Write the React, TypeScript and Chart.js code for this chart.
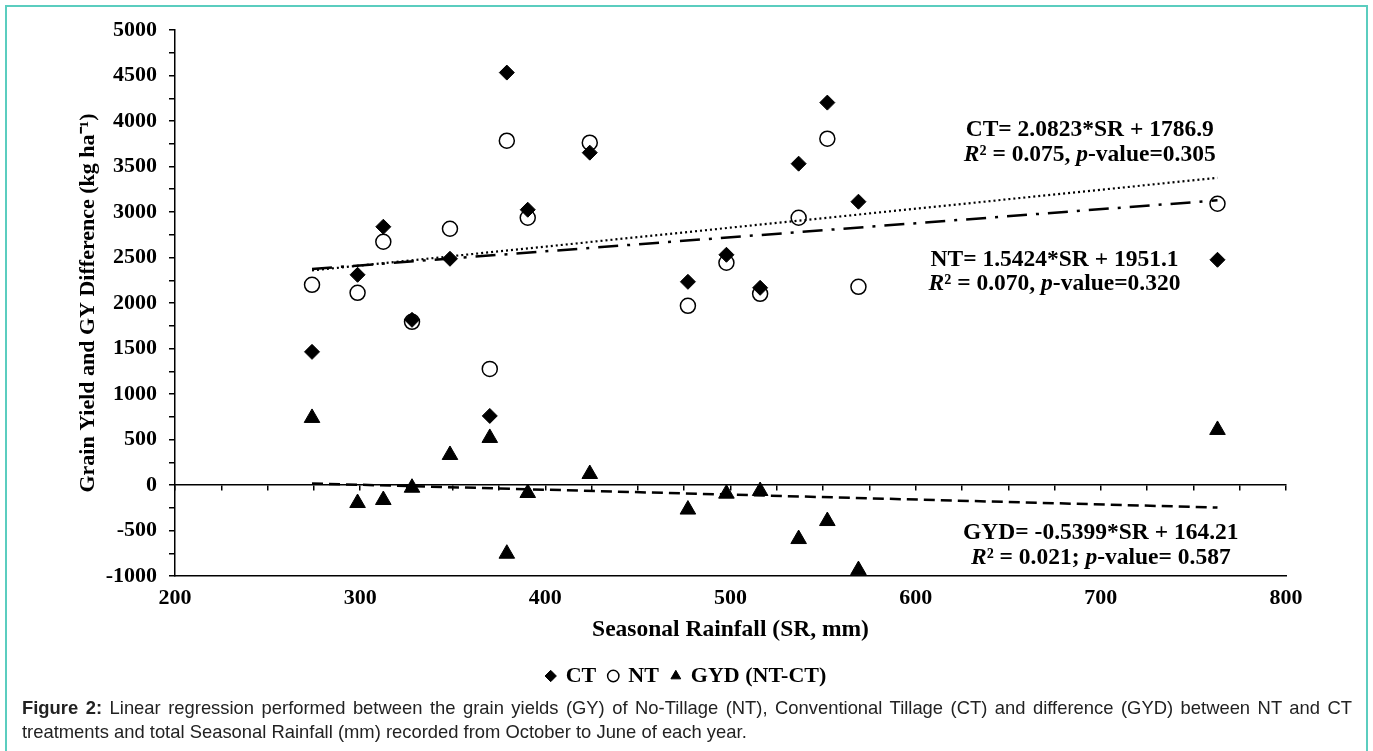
import React, { useEffect, useRef } from 'react';
import { Chart, registerables } from 'chart.js';

Chart.register(...registerables);

const SERIF = '"Liberation Serif", "Times New Roman", Times, serif';
const SANS = '"Liberation Sans", Arial, Helvetica, sans-serif';

// Seasonal rainfall (SR, mm) for each year
const rainfall = [274, 298.6, 312.5, 328, 348.5, 370, 379.2, 390.5, 424, 477, 497.8, 516, 536.8, 552.3, 569.1, 763];
// Conventional Tillage grain yield (kg/ha)
const ctYield = [1463, 2310, 2838, 1815, 2486, 759, 4532, 3025, 3652, 2233, 2530, 2167, 3531, 4202, 3113, 2475];
// No-Tillage grain yield (kg/ha)
const ntYield = [2200, 2112, 2673, 1793, 2816, 1276, 3784, 2937, 3762, 1969, 2442, 2101, 2937, 3806, 2178, 3091];
// Grain yield difference NT - CT (kg/ha)
const gydDiff = [737, -198, -165, -30, 330, 517, -755, -88, 121, -270, -95, -66, -594, -396, -935, 605];

const seriesNames = ['CT', 'NT', 'GYD (NT-CT)'];

// Regression coefficients printed on the figure [slope, intercept]
const ctFit = [2.0823, 1786.9];
const ntFit = [1.5424, 1951.1];
const gydFit = [-0.5399, 164.21];

// Equation texts (segments: [text, italic])
const ctEquation = [
  [['CT= 2.0823*SR + 1786.9', false]],
  [['R', true], ['² = 0.075, ', false], ['p', true], ['-value=0.305', false]],
];
const ntEquation = [
  [['NT= 1.5424*SR + 1951.1', false]],
  [['R', true], ['² = 0.070, ', false], ['p', true], ['-value=0.320', false]],
];
const gydEquation = [
  [['GYD= -0.5399*SR + 164.21', false]],
  [['R', true], ['² = 0.021; ', false], ['p', true], ['-value= 0.587', false]],
];

const xTitle = 'Seasonal Rainfall (SR, mm)';
const yTitle = 'Grain Yield and GY Difference (kg ha⁻¹)';

const fitLine = (coef: number[]) => {
  const lo = Math.min(...rainfall);
  const hi = Math.max(...rainfall);
  return [lo, hi].map((x) => ({ x, y: coef[0] * x + coef[1] }));
};

const pts = (ys: number[]) => rainfall.map((x, i) => ({ x, y: ys[i] }));

const equationPlugin = {
  id: 'equationText',
  afterDatasetsDraw(chart: any, _args: any, opts: any) {
    const { ctx, scales } = chart;
    const xs = scales.x;
    const ys = scales.y;
    ctx.save();
    ctx.fillStyle = '#000';
    ctx.textBaseline = 'middle';
    ctx.textAlign = 'left';
    for (const item of opts.items) {
      item.eq.forEach((line: any[], li: number) => {
        const fonts = line.map((s: any) => `${s[1] ? 'italic ' : ''}bold ${opts.size}px ${SERIF}`);
        let total = 0;
        const widths = line.map((s: any, k: number) => {
          ctx.font = fonts[k];
          const w = ctx.measureText(s[0]).width;
          total += w;
          return w;
        });
        let px = xs.getPixelForValue(item.x) - total / 2;
        const py = ys.getPixelForValue(item.y[li]);
        line.forEach((s: any, k: number) => {
          ctx.font = fonts[k];
          ctx.fillText(s[0], px, py);
          px += widths[k];
        });
      });
    }
    ctx.restore();
  },
};

export default function App() {
  const ref = useRef<HTMLCanvasElement>(null);

  useEffect(() => {
    const tickFont = { family: SERIF, size: 22, weight: 'bold' as const };
    const chart = new Chart(ref.current as HTMLCanvasElement, {
      type: 'scatter',
      data: {
        datasets: [
          {
            label: seriesNames[0],
            data: pts(ctYield),
            pointStyle: 'rectRot',
            pointRadius: 7.5,
            backgroundColor: '#000',
            borderColor: '#000',
            borderWidth: 1,
          },
          {
            label: seriesNames[1],
            data: pts(ntYield),
            pointStyle: 'circle',
            pointRadius: 7.5,
            backgroundColor: 'rgba(0,0,0,0)',
            borderColor: '#000',
            borderWidth: 1.5,
          },
          {
            label: seriesNames[2],
            data: pts(gydDiff),
            pointStyle: 'triangle',
            pointRadius: 9,
            backgroundColor: '#000',
            borderColor: '#000',
            borderWidth: 1,
          },
          {
            label: 'CT fit',
            data: fitLine(ctFit),
            showLine: true,
            pointRadius: 0,
            borderColor: '#000',
            borderWidth: 2.2,
            borderDash: [2, 3],
          },
          {
            label: 'NT fit',
            data: fitLine(ntFit),
            showLine: true,
            pointRadius: 0,
            borderColor: '#000',
            borderWidth: 2.5,
            borderDash: [20, 9, 3, 9],
          },
          {
            label: 'GYD fit',
            data: fitLine(gydFit),
            showLine: true,
            pointRadius: 0,
            borderColor: '#000',
            borderWidth: 2.5,
            borderDash: [11, 6],
          },
        ],
      },
      options: {
        responsive: false,
        animation: false,
        events: [],
        layout: { padding: { left: 0, right: 0, top: 30, bottom: 3 } },
        scales: {
          x: {
            type: 'linear',
            position: 'bottom',
            min: 200,
            max: 800,
            ticks: { stepSize: 100, padding: 9, color: '#000', font: tickFont },
            grid: { display: false, drawTicks: false },
            border: { display: true, color: '#000', width: 1.5 },
            title: {
              display: true,
              text: xTitle,
              color: '#000',
              font: { family: SERIF, size: 23.5, weight: 'bold' },
              padding: { top: 0, bottom: 8 },
            },
            afterFit: (s: any) => {
              s.height = 76;
            },
          },
          x2: {
            type: 'linear',
            axis: 'x',
            position: { y: 0 },
            min: 200,
            max: 800,
            ticks: { display: false, stepSize: 25, autoSkip: false },
            grid: { drawOnChartArea: false, drawTicks: true, tickLength: 5, color: '#000', lineWidth: 1.5 },
            border: { display: true, color: '#000', width: 1.5 },
          },
          y: {
            type: 'linear',
            position: 'left',
            min: -1000,
            max: 5000,
            ticks: {
              stepSize: 250,
              autoSkip: false,
              padding: 12,
              color: '#000',
              font: tickFont,
              callback: (v: any) => (Number(v) % 500 === 0 ? String(v) : ''),
            },
            grid: { drawOnChartArea: false, drawTicks: true, tickLength: 6, color: '#000', lineWidth: 1.5 },
            border: { display: true, color: '#000', width: 1.5 },
            title: {
              display: true,
              text: yTitle,
              color: '#000',
              font: { family: SERIF, size: 22, weight: 'bold' },
              padding: { top: 75, bottom: 0 },
            },
            afterFit: (s: any) => {
              s.width = 175;
            },
          },
          yRight: {
            type: 'linear',
            axis: 'y',
            position: 'right',
            min: -1000,
            max: 5000,
            ticks: { display: false },
            grid: { display: false, drawTicks: false },
            border: { display: false },
            afterFit: (s: any) => {
              s.width = 87;
            },
          },
        } as any,
        plugins: {
          tooltip: { enabled: false },
          legend: {
            position: 'bottom',
            labels: {
              filter: (item: any) => item.datasetIndex < 3,
              usePointStyle: true,
              boxWidth: 8,
              boxHeight: 8,
              padding: 13,
              color: '#000',
              font: { family: SERIF, size: 22, weight: 'bold' },
            },
          },
          equationText: {
            size: 23.5,
            items: [
              { eq: ctEquation, x: 694, y: [3905, 3630] },
              { eq: ntEquation, x: 675, y: [2475, 2211] },
              { eq: gydEquation, x: 700, y: [-528, -803] },
            ],
          },
        } as any,
      },
      plugins: [equationPlugin],
    });
    return () => chart.destroy();
  }, []);

  return (
    <div style={{ position: 'absolute', left: 0, top: 0, width: 1373, height: 751, background: '#fff', overflow: 'hidden' }}>
      <div
        style={{
          position: 'absolute',
          left: 5,
          top: 5,
          width: 1363,
          height: 760,
          border: '2px solid #5bcdbf',
          boxSizing: 'border-box',
        }}
      />
      <canvas ref={ref} width={1373} height={700} style={{ position: 'absolute', left: 0, top: 0, width: 1373, height: 700 }} />
      <div
        style={{
          position: 'absolute',
          left: 22,
          top: 696,
          width: 1330,
          fontFamily: SANS,
          fontSize: 18.4,
          lineHeight: '24px',
          color: '#222',
        }}
      >
        <div style={{ textAlign: 'justify', textAlignLast: 'justify' }}>
          <b>Figure 2:</b> Linear regression performed between the grain yields (GY) of No-Tillage (NT), Conventional Tillage (CT) and difference (GYD) between NT and CT
        </div>
        <div>treatments and total Seasonal Rainfall (mm) recorded from October to June of each year.</div>
      </div>
    </div>
  );
}
